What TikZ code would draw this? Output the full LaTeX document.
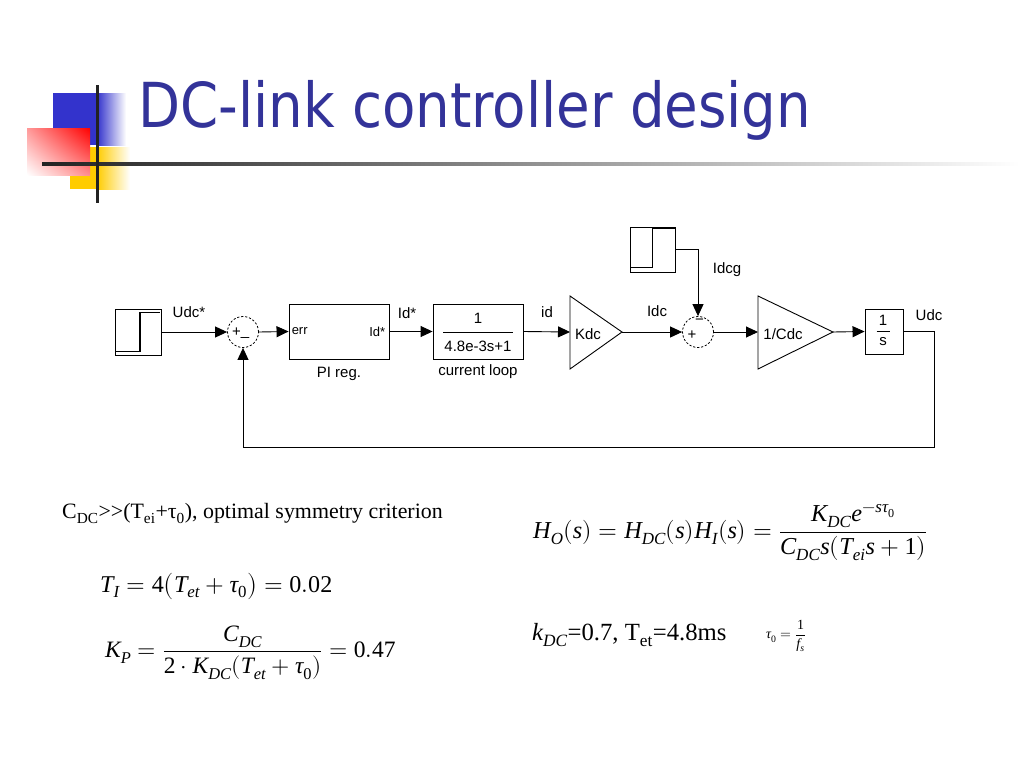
\documentclass[tikz,border=0pt]{standalone}
\usepackage{amsmath}
\usepackage{fontspec}
\usepackage{unicode-math}
\setmainfont{Liberation Serif}
\setsansfont{Liberation Sans}
\setmathfont{Latin Modern Math}
\setmathfont[range=up]{Liberation Serif}
\setmathfont[range=it->up]{Liberation Serif Italic}
\newfontfamily\titlefont{DejaVu Sans}
\usetikzlibrary{arrows.meta,shadings}
\definecolor{titleblue}{RGB}{51,51,153}
\definecolor{decoblue}{RGB}{51,51,204}
\definecolor{decoyellow}{RGB}{255,204,0}
\definecolor{decored}{RGB}{255,0,0}
\definecolor{rulegray}{RGB}{34,34,34}
\tikzset{
  blk/.style={draw, line width=0.9pt, inner sep=0pt},
  lbl/.style={font=\sffamily\fontsize{15}{16}\selectfont, inner sep=0pt},
  sig/.style={line width=0.9pt, -{Triangle[length=12pt,width=11pt]}},
  wire/.style={line width=0.9pt},
  sumc/.style={circle, draw, dash pattern=on 2.2pt off 1.8pt, line width=0.8pt, minimum size=31pt, inner sep=0pt},
  stepline/.style={line width=1.3pt},
}
\begin{document}
\begin{tikzpicture}[x=1pt,y=-1pt]
\fill[white] (0,0) rectangle (1024,768);
\useasboundingbox (0,0) rectangle (1024,768);

% ---- decoration
\fill[decoblue] (53,93) rectangle (97,145);
\shade[left color=decoblue, right color=white] (97,93) rectangle (126,145);
\fill[decoyellow] (70,147) rectangle (97,189);
\shade[left color=decoyellow, right color=white] (97,147) rectangle (130,189);
\shade[upper left=decored!40, upper right=decored, lower left=white, lower right=decored!45] (27,128) rectangle (90,175);
\shade[left color=rulegray, right color=white] (42,162.5) rectangle (1020,165.5);
\fill[rulegray] (95.5,85) rectangle (98.5,203);

% ---- title
\node[anchor=base west, inner sep=0pt, text=titleblue, font=\titlefont\fontsize{62}{70}\selectfont] (title) at (138,127) {\scalebox{0.881}[1]{DC-link controller design}};

% ---- block diagram
\node[blk, minimum width=46pt, minimum height=46pt] (src1) at (138,332) {};
\draw[stepline] (116,351.5) -- (140,351.5) -- (140,312.5) -- (160,312.5);

\node[sumc] (sum1) at (243,332) {};
\node[lbl] (s1p) at (236.5,332) {+};
\node[lbl] (s1m) at (245,337) {\_};

\node[blk, minimum width=100pt, minimum height=55pt] (pi) at (339,331.5) {};
\node[lbl, anchor=west, font=\sffamily\fontsize{13}{14}\selectfont] (err) at ([xshift=3pt]pi.west) {err};
\node[lbl, anchor=east, font=\sffamily\fontsize{13}{14}\selectfont] (pio) at ([xshift=-4pt]pi.east) {Id*};
\node[lbl] (pilbl) at (339,374) {PI reg.};

\node[blk, minimum width=90pt, minimum height=55pt] (cl) at (478,331.5) {};
\node[lbl] (clnum) at (478,318) {1};
\draw[wire] (443,332) -- (513,332);
\node[lbl] (clden) at (478,346) {4.8e-3s+1};
\node[lbl] (cllbl) at (478,372) {current loop};

\coordinate (kdcIn) at (570,332);
\coordinate (kdcOut) at (622,332);
\draw[wire, line join=miter] (570,296) -- (kdcOut) -- (570,369) -- cycle;
\node[lbl] (kdctxt) at (588,334) {Kdc};

\node[sumc] (sum2) at (698,332) {};
\node[lbl] (s2p) at (692,335) {+};
\node[lbl] (s2m) at (699.5,322) {−};

\node[blk, minimum width=45pt, minimum height=45pt] (src2) at (652.5,249.5) {};
\draw[stepline] (631,267.5) -- (652.5,267.5) -- (652.5,228.5) -- (675,228.5);

\coordinate (cdcIn) at (758,332);
\coordinate (cdcOut) at (833,332);
\draw[wire, line join=miter] (758,296) -- (cdcOut) -- (758,369) -- cycle;
\node[lbl] (cdctxt) at (783,334) {1/Cdc};

\node[blk, minimum width=38pt, minimum height=45pt] (integ) at (884,331.5) {};
\node[lbl] (inum) at (883,320) {1};
\draw[wire] (876.5,331) -- (889.5,331);
\node[lbl] (iden) at (883,342) {s};

\coordinate (fbR) at (934,447);

\draw[sig] (src1.east) -- (sum1.west);
\draw[sig] (sum1.east) -- (pi.west);
\draw[sig] (pi.east) -- (cl.west);
\draw[sig] (cl.east) -- (kdcIn);
\draw[sig] (kdcOut) -- (sum2.west);
\draw[sig] (src2.east) -| (sum2.north);
\draw[sig] (sum2.east) -- (cdcIn);
\draw[sig] (cdcOut) -- (integ.west);
\draw[sig] (integ.east) -| (fbR) -| (sum1.south);

\node[lbl] (l1) at (189,312) {Udc*};
\node[lbl] (l2) at (407,313) {Id*};
\node[lbl] (l3) at (547,312) {id};
\node[lbl] (l4) at (657,311) {Idc};
\node[lbl] (l5) at (727,270) {Idcg};
\node[lbl] (l6) at (929,315) {Udc};

% ---- equations
\node[anchor=base west, inner sep=0pt, font=\fontsize{21.9}{24}\selectfont] (crit) at (62,518)
  {C\textsubscript{DC}>\kern0pt>(T\textsubscript{ei}+τ\textsubscript{0}), optimal symmetry criterion};
\node[anchor=base west, inner sep=0pt, font=\fontsize{24.1}{28}\selectfont] (eqTI) at (100,592)
  {$T_I = 4\bigl(T_{et} + \tau_0\bigr) = 0.02$};
\node[anchor=west, inner sep=0pt, font=\fontsize{23.5}{28}\selectfont] (eqKP) at (105,653)
  {$K_P = \dfrac{C_{DC}}{2\cdot K_{DC}(T_{et}+\tau_0)} = 0.47$};
\node[anchor=west, inner sep=0pt, font=\fontsize{24.3}{28}\selectfont] (eqHO) at (533,533)
  {$H_O(s) = H_{DC}(s)H_I(s) = \dfrac{K_{DC}e^{-s\tau_0}}{C_{DC}s(T_{ei}s+1)}$};
\node[anchor=base west, inner sep=0pt, font=\fontsize{24.7}{30}\selectfont] (kdc) at (532,640)
  {$k_{DC}$=0.7, T\textsubscript{et}=4.8ms};
\node[inner sep=0pt, font=\fontsize{14}{16}\selectfont] (tau) at (786,636) {$\tau_0=\dfrac{1}{f_s}$};
\end{tikzpicture}
\end{document}
